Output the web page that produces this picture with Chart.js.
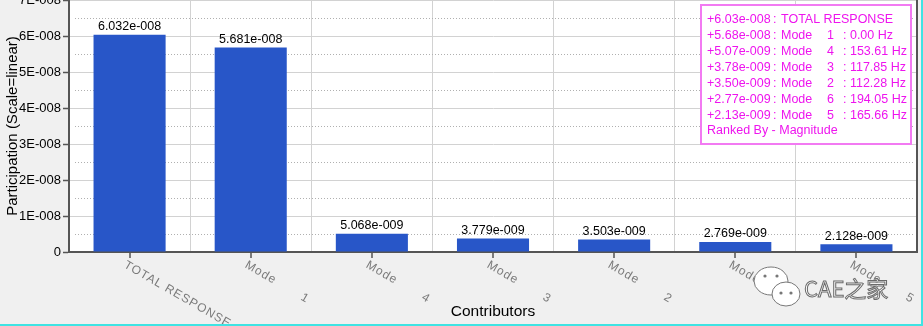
<!DOCTYPE html>
<html>
<head>
<meta charset="utf-8">
<script src="https://cdn.jsdelivr.net/npm/chart.js@4.4.1/dist/chart.umd.min.js"></script>
<style>
  html,body{margin:0;padding:0;background:#3fe3e3;}
  #wrap{position:absolute;left:0;top:0;width:921px;height:324px;background:#f0f0f0;}
  canvas{display:block;}
</style>
</head>
<body>
<div id="wrap"><canvas id="chart" width="921" height="324"></canvas></div>
<script>
// values
const modeIds=[null, 1, 4, 3, 2, 6, 5];
const freqs=[null, 0.00, 153.61, 117.85, 112.28, 194.05, 165.66];
const values=[6.032e-8, 5.681e-8, 5.068e-9, 3.779e-9, 3.503e-9, 2.769e-9, 2.128e-9];
const yTicks=[0, 1e-8, 2e-8, 3e-8, 4e-8, 5e-8, 6e-8, 7e-8];

const categories=modeIds.map(function(id){
    return id===null ? "TOTAL RESPONSE" : "Mode" + " ".repeat(7) + id;
});

// 6.032e-008 style
function sci(v, d){
    const s=v.toExponential(d).split("e");
    const exp=parseInt(s[1]);
    const sign=exp<0 ? "-" : "+";
    return s[0]+"e"+sign+String(Math.abs(exp)).padStart(3,"0");
}
function tickLabel(v){
    if(v===0) return "0";
    return sci(v,0).replace("e","E");
}

const FONT="'Liberation Sans', Arial, sans-serif";

const extras={
    id:"extras",
    beforeDraw(chart){
        const c=chart.ctx, a=chart.chartArea;
        c.save();
        c.fillStyle="#fff";
        c.fillRect(a.left,0,a.right-a.left,a.bottom);
        c.restore();
    },
    beforeDatasetsDraw(chart){
        const c=chart.ctx, a=chart.chartArea, y=chart.scales.y;
        // dotted minor grid
        c.save();
        c.strokeStyle="#b0b0b0";
        c.lineWidth=1;
        c.setLineDash([1,2]);
        for(let i=0;i<yTicks.length-1;i++){
            const py=Math.round(y.getPixelForValue((yTicks[i]+yTicks[i+1])/2))+0.5;
            c.beginPath();
            c.moveTo(a.left+6,py);
            c.lineTo(a.right-4,py);
            c.stroke();
        }
        c.restore();
    },
    afterDatasetsDraw(chart){
        const c=chart.ctx, a=chart.chartArea, x=chart.scales.x;
        const meta=chart.getDatasetMeta(0);
        c.save();
        // value labels
        c.font="12.5px "+FONT;
        c.fillStyle="#000";
        c.textAlign="center";
        c.textBaseline="bottom";
        meta.data.forEach(function(bar,i){
            c.fillText(sci(values[i],3), bar.x, bar.y-2);
        });
        // right border
        c.strokeStyle="#555";
        c.lineWidth=2;
        c.beginPath();
        c.moveTo(a.right,0);
        c.lineTo(a.right,a.bottom+1);
        c.stroke();
        // x tick marks + rotated labels
        c.lineWidth=1.5;
        categories.forEach(function(lab,i){
            const px=Math.round(x.getPixelForValue(i));
            c.beginPath();
            c.moveTo(px,a.bottom);
            c.lineTo(px,a.bottom+6);
            c.stroke();
            c.save();
            c.translate(px-2,a.bottom+7);
            c.rotate(30*Math.PI/180);
            c.font="12px "+FONT;
            c.letterSpacing="1px";
            c.fillStyle="#7a7a7a";
            c.textAlign="left";
            c.textBaseline="top";
            c.fillText(lab,0,0);
            c.restore();
        });
        // ranking box
        c.fillStyle="#fff";
        c.fillRect(701,5,210,139);
        c.strokeStyle="#f27af2";
        c.lineWidth=2;
        c.strokeRect(701,5,210,139);
        c.font="12.5px "+FONT;
        c.fillStyle="#ee14ee";
        c.textAlign="left";
        c.textBaseline="middle";
        values.forEach(function(v,i){
            const ly=19.5+i*16;
            c.fillText("+"+sci(v,2),707,ly);
            c.fillText(":",773,ly);
            if(modeIds[i]===null){
                c.fillText("TOTAL RESPONSE",781,ly);
            } else {
                c.fillText("Mode",781,ly);
                c.fillText(String(modeIds[i]),827,ly);
                c.fillText(": "+freqs[i].toFixed(2)+" Hz",843,ly);
            }
        });
        c.fillText("Ranked By - Magnitude",707,131);
        // watermark
        c.fillStyle="#fff";
        c.strokeStyle="#777";
        c.lineWidth=1;
        c.beginPath();
        c.ellipse(771,281,17,14,0,0,Math.PI*2);
        c.fill();c.stroke();
        c.beginPath();
        c.ellipse(786,294,14,12,0,0,Math.PI*2);
        c.fill();c.stroke();
        c.fillStyle="#777";
        [[765,276],[777,276],[781,293],[791,293]].forEach(function(p){
            c.beginPath();c.arc(p[0],p[1],1.6,0,Math.PI*2);c.fill();
        });
        c.font="22px 'Noto Sans CJK SC', sans-serif";
        c.textBaseline="middle";
        c.fillStyle="#fafafa";
        c.strokeStyle="#6a6a6a";
        c.lineWidth=1;
        c.fillText("CAE之家",804,289);
        c.strokeText("CAE之家",804,289);
        c.restore();
    }
};

const ctx=document.getElementById("chart").getContext("2d");
const chart=new Chart(ctx,{
    type:"bar",
    data:{
        labels:categories,
        datasets:[{
            data:values,
            backgroundColor:"#2856c8",
            borderWidth:0,
            barPercentage:0.595,
            categoryPercentage:1
        }]
    },
    options:{
        responsive:false,
        animation:false,
        devicePixelRatio:1,
        layout:{padding:{left:0,right:4,top:0,bottom:0}},
        plugins:{legend:{display:false},tooltip:{enabled:false}},
        scales:{
            x:{
                type:"category",
                ticks:{display:false},
                grid:{offset:true,color:"#d2d2d2",drawTicks:false},
                border:{color:"#555",width:2},
                title:{display:true,text:"Contributors",color:"#000",font:{size:15.5,family:FONT},padding:{top:4,bottom:3}},
                afterFit(s){s.height=72;s.paddingLeft=0;s.paddingRight=0;}
            },
            y:{
                min:0,
                max:7e-8,
                afterBuildTicks(s){s.ticks=yTicks.map(function(v){return {value:v};});},
                ticks:{
                    callback:function(v){return tickLabel(v);},
                    color:"#000",
                    font:{size:13,family:FONT},
                    padding:2
                },
                grid:{color:"#d2d2d2",tickColor:"#555",tickLength:6,tickWidth:1.5},
                border:{color:"#555",width:2},
                title:{display:true,text:"Participation (Scale=linear)",color:"#000",font:{size:15,family:FONT},padding:{top:4,bottom:0}},
                afterFit(s){s.width=69;s.paddingTop=0;s.paddingBottom=0;}
            }
        }
    },
    plugins:[extras]
});
</script>
</body>
</html>
